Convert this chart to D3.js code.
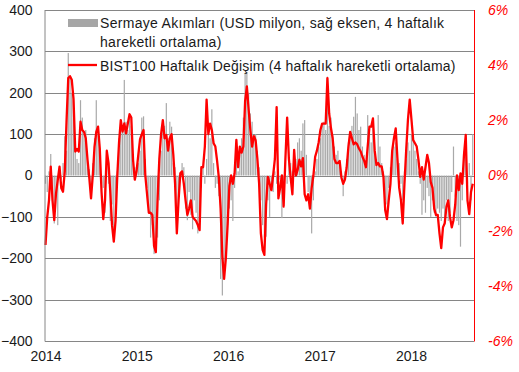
<!DOCTYPE html>
<html><head><meta charset="utf-8">
<script src="https://cdn.jsdelivr.net/npm/d3@7"></script>
<style>body{margin:0;background:#fff}svg{display:block}text{font-family:"Liberation Sans",Arial,sans-serif}</style>
</head><body>
<script>
const startDate = "2014-01-01";
const endDate = "2018-09-10";
const yearTicks = ["2014","2015","2016","2017","2018"];
const leftTicks = [-400,-300,-200,-100,0,100,200,300,400];
const rightTicks = [-6,-4,-2,0,2,4,6];
const legendFlows = ["Sermaye Akımları (USD milyon, sağ eksen, 4 haftalık", "hareketli ortalama)"];
const legendBist = "BIST100 Haftalık Değişim (4 haftalık hareketli ortalama)";
// weekly capital flows (USD mn, 4w MA)
const flows = [
-20,-40,10,52,-60,-116,-50,-120,20,-10,
30,95,60,296,240,200,180,80,40,30,
182,140,100,110,20,15,-20,30,90,182,
100,60,-20,-30,-90,40,-20,-110,-70,-150,
-60,10,90,134,110,231,130,110,150,120,
30,20,20,30,60,140,143,40,-30,-90,
-150,-120,-190,-185,-150,-60,60,134,120,175,
90,130,118,30,20,-140,-40,-10,30,20,
-80,-108,-40,-95,-130,-60,-90,-140,-120,-30,
20,-20,40,100,90,160,30,-30,-20,-50,
-250,-290,-220,-200,-120,-80,-60,-110,-30,40,
10,60,90,140,247,250,200,150,130,90,
100,60,20,-60,-120,-150,-148,-60,-100,-30,
-40,10,-20,-50,-10,-103,-60,30,-20,40,
30,10,60,40,80,90,60,126,134,50,
-40,-70,-140,-60,10,40,70,90,120,130,
110,239,120,140,100,70,50,60,30,10,
-50,10,40,80,100,120,142,190,150,110,
118,70,50,30,146,110,80,130,60,40,
146,70,30,10,-60,-70,-30,20,50,70,
80,40,30,-20,-60,10,40,80,60,100,
90,60,40,10,-20,-95,-60,-90,-30,-50,
-100,-60,-90,-100,-80,-90,-110,-80,-100,-60,
-110,-90,-40,70,-51,-110,-120,-172,-60,60,
50,-20,30,-60,100];
// weekly BIST100 change (%, 4w MA)
const bist = [
-2.52,-1.50,-0.90,0.32,-0.90,-1.62,-0.65,-0.17,0.32,-0.45,
-0.59,0.15,1.95,3.53,3.60,3.47,2.78,0.87,0.96,0.87,
1.95,1.65,1.58,1.35,0.57,-0.08,-0.83,0.00,1.05,1.58,
1.77,0.98,-0.60,-1.58,-0.89,0.90,0.45,-0.60,-1.80,-2.40,
-1.65,0.00,1.20,2.01,1.59,1.89,1.53,1.88,2.22,2.10,
0.57,-0.15,0.15,0.75,1.32,1.50,1.65,0.00,-0.68,-1.35,
-1.35,-1.43,-2.55,-2.78,-0.90,0.60,1.50,2.01,1.35,1.47,
0.90,1.35,1.50,0.75,-0.30,-2.10,-0.90,0.08,0.15,-0.30,
-0.90,-1.43,-1.20,-0.90,-1.49,-1.58,-1.65,-1.80,-1.98,0.30,
0.30,1.05,2.75,1.50,1.88,1.65,1.17,1.05,0.53,-0.08,
-1.20,-2.94,-3.75,-3.00,-1.80,-0.38,0.00,-0.30,0.08,1.29,
0.30,1.05,0.83,1.05,2.70,3.23,2.40,1.65,1.05,1.43,
1.28,0.60,-0.30,-2.10,-2.70,-2.88,-1.05,-0.05,-0.30,-0.53,
0.00,0.60,2.48,-0.83,-0.45,0.00,-1.13,0.60,2.10,0.60,
-0.08,-0.68,0.93,0.00,0.20,0.57,0.33,0.63,-0.68,-0.90,
-0.68,-1.20,-0.45,0.00,0.68,0.90,1.20,1.65,1.88,1.88,
1.88,3.53,2.25,1.73,1.35,0.60,0.45,0.45,0.53,-0.08,
-0.30,-0.15,0.30,1.05,1.58,1.35,1.13,1.20,1.13,0.98,
0.87,0.68,0.53,0.30,1.05,1.77,1.77,2.07,0.90,0.38,
0.45,0.33,0.33,-0.05,-1.25,-1.58,-0.90,-0.30,0.90,1.35,
1.71,0.60,-0.45,-0.89,-1.74,-0.30,0.93,2.03,2.75,2.03,
1.28,1.17,1.05,0.57,-0.05,0.30,-0.15,0.30,0.75,0.45,
-0.23,-0.45,-1.20,-1.43,-1.43,-2.10,-2.63,-1.88,-1.73,-1.13,
-0.90,-1.50,-1.88,-1.62,-1.05,0.00,-0.53,0.08,-0.30,0.75,
1.47,-0.90,-1.40,-0.60,-0.30];

const W = 519, H = 372;
const L = 45.5, R = 474, T = 10, B = 341;
const parse = d3.utcParse("%Y-%m-%d");
const t0 = parse(startDate);
const dates = flows.map((_, i) => d3.utcDay.offset(t0, 7 * i));

const svg = d3.select("body").append("svg").attr("width", W).attr("height", H);
const x = d3.scaleUtc().domain([t0, parse(endDate)]).range([L, R]);
const yL = d3.scaleLinear().domain([-400, 400]).range([B, T]);
const yR = d3.scaleLinear().domain([-6, 6]).range([B, T]);

// gridlines
svg.append("g").selectAll("line").data(leftTicks).join("line")
  .attr("x1", L - 0.5).attr("x2", R).attr("y1", d => Math.round(yL(d)) + 0.5).attr("y2", d => Math.round(yL(d)) + 0.5)
  .attr("stroke", "#868686").attr("stroke-width", 1);

// bars
svg.append("g").selectAll("rect").data(flows).join("rect")
  .attr("x", (d, i) => x(dates[i]) - 0.6)
  .attr("width", 1.2)
  .attr("y", d => yL(Math.max(0, d)))
  .attr("height", d => Math.abs(yL(d) - yL(0)))
  .attr("fill", "#a9a9a9");

// line
const line = d3.line().x((d, i) => x(dates[i])).y(d => yR(d)).curve(d3.curveLinear);
svg.append("path").datum(bist).attr("d", line).attr("fill", "none")
  .attr("stroke", "#ff0000").attr("stroke-width", 2.3).attr("stroke-linejoin", "round");

// axes lines
svg.append("line").attr("x1", L - 0.5).attr("x2", L - 0.5).attr("y1", T).attr("y2", B + 0.5).attr("stroke", "#868686");
svg.append("line").attr("x1", R + 0.5).attr("x2", R + 0.5).attr("y1", T).attr("y2", B + 0.5).attr("stroke", "#ff0000");

// left labels
const leftAxis = d3.axisLeft(yL).tickValues(leftTicks).tickSize(0).tickPadding(13);
const gl = svg.append("g").attr("transform", `translate(${L},0)`).call(leftAxis);
gl.select(".domain").remove();
gl.selectAll("text").attr("font-size", 14).attr("fill", "#1a1a1a").attr("font-family", '"Liberation Sans",Arial,sans-serif');

// right labels
const rightAxis = d3.axisRight(yR).tickValues(rightTicks).tickSize(0).tickPadding(14).tickFormat(d => d + "%");
const gr = svg.append("g").attr("transform", `translate(${R},0)`).call(rightAxis);
gr.select(".domain").remove();
gr.selectAll("text").attr("font-size", 14).attr("fill", "#ff0000").attr("font-style", "italic").attr("font-family", '"Liberation Sans",Arial,sans-serif');

// x labels
const xAxis = d3.axisBottom(x).tickValues(yearTicks.map(s => parse(s + "-01-01"))).tickSize(0).tickPadding(10).tickFormat(d3.utcFormat("%Y"));
const gx = svg.append("g").attr("transform", `translate(0,${B})`).call(xAxis);
gx.select(".domain").remove();
gx.selectAll("text").attr("font-size", 14).attr("fill", "#1a1a1a").attr("font-family", '"Liberation Sans",Arial,sans-serif');

// legend
const lg = svg.append("g");
lg.append("rect").attr("x", 68).attr("y", 19).attr("width", 30).attr("height", 8).attr("fill", "#a6a6a6");
lg.append("text").attr("x", 100).attr("y", 28).attr("font-size", 14).attr("letter-spacing", 0.3).attr("fill", "#1a1a1a").text(legendFlows[0]);
lg.append("text").attr("x", 100).attr("y", 47).attr("font-size", 14).attr("letter-spacing", 0.3).attr("fill", "#1a1a1a").text(legendFlows[1]);
lg.append("line").attr("x1", 68).attr("x2", 97).attr("y1", 65).attr("y2", 65).attr("stroke", "#ff0000").attr("stroke-width", 2.3);
lg.append("text").attr("x", 100).attr("y", 71).attr("font-size", 14).attr("letter-spacing", 0.18).attr("fill", "#1a1a1a").text(legendBist);
</script>
</body></html>
